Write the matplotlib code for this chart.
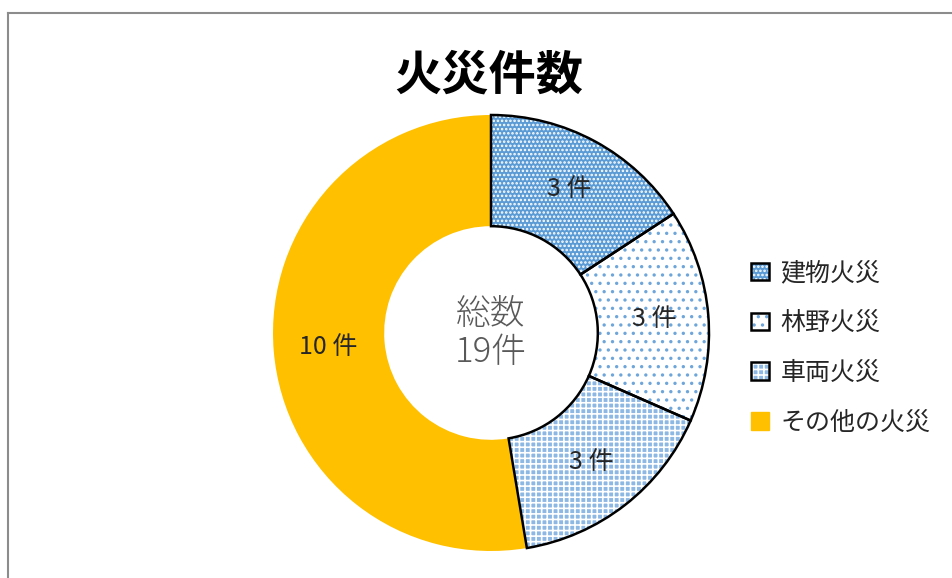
import matplotlib.pyplot as plt
from matplotlib.patches import Patch
from matplotlib.lines import Line2D

plt.rcParams['font.family'] = ['Noto Sans CJK JP', 'DejaVu Sans']
plt.rcParams['hatch.linewidth'] = 1.2

categories = ['建物火災', '林野火災', '車両火災', 'その他の火災']
counts = [3, 3, 3, 10]
total = sum(counts)

face_colors = ['#5B9BD5', '#FFFFFF', '#8DB8E4', '#FFC000']
hatch_colors = ['#FFFFFF', '#6FA6DA', '#FFFFFF', '#FFC000']
hatches = ['....', '..', '+++', None]

fig = plt.figure(figsize=(9.53, 5.78), dpi=100)
W, H = 953, 578
cx, cy, r = 491, 333, 218
ax = fig.add_axes([(cx - r) / W, (H - cy - r) / H, 2 * r / W, 2 * r / H])

labels = [f'{c} 件' for c in counts]
wedges, texts = ax.pie(counts, startangle=90, counterclock=False,
                       labels=labels, labeldistance=0.75,
                       wedgeprops=dict(width=0.51, linewidth=0),
                       textprops=dict(fontsize=18, color='#262626',
                                      ha='center', va='center'))
for w, fc, hc, h in zip(wedges, face_colors, hatch_colors, hatches):
    w.set_facecolor(fc)
    w.set_edgecolor(hc)
    w.set_hatch(h)
    w.set_linewidth(0)

# black outline on top of the hatched wedges
outline, _ = ax.pie(counts, startangle=90, counterclock=False,
                    wedgeprops=dict(width=0.51, linewidth=1.8,
                                    edgecolor='black', facecolor='none'))
outline[3].set_edgecolor('none')
for t in texts:
    t.set_zorder(5)

ax.set_xlim(-1, 1)
ax.set_ylim(-1, 1)
ax.set_aspect('equal')
ax.axis('off')

ax.text(0, 0, f'総数\n{total}件', ha='center', va='center', fontsize=25,
        color='#595959', fontweight='light', linespacing=1.1)

fig.suptitle('火災件数', x=489 / W, y=1 - 76 / H, va='center',
             fontsize=34, fontweight='bold')

handles = []
for fc, hc, h in zip(face_colors, hatch_colors, hatches):
    if h is None:
        handles.append(Patch(facecolor=fc, edgecolor=fc))
    else:
        handles.append((Patch(facecolor=fc, edgecolor=hc, hatch=h, linewidth=0),
                        Patch(facecolor='none', edgecolor='black', linewidth=1.8)))
fig.legend(handles, categories, loc='center left',
           bbox_to_anchor=(729 / W, 1 - 348 / H), frameon=False,
           fontsize=18, labelcolor='#262626', handlelength=0.7,
           handleheight=0.7, handletextpad=0.45, labelspacing=0.95)

# chart frame (cropped at right and bottom)
fig.add_artist(Line2D([8 / W, 1], [1 - 13 / H] * 2, transform=fig.transFigure,
                      color='#8c8c8c', lw=1.5))
fig.add_artist(Line2D([8 / W] * 2, [0, 1 - 13 / H], transform=fig.transFigure,
                      color='#8c8c8c', lw=1.5))

fig.savefig('out.png', dpi=100)
